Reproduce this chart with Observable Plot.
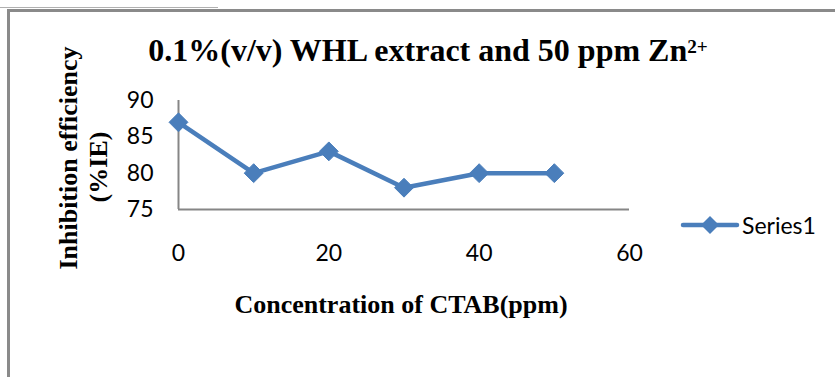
<!DOCTYPE html>
<html>
<head>
<meta charset="utf-8">
<script src="https://cdn.jsdelivr.net/npm/d3@7"></script>
<script src="https://cdn.jsdelivr.net/npm/@observablehq/plot@0.6"></script>
<style>
  html, body { margin: 0; padding: 0; background: #fff; }
  #wrap { position: relative; width: 835px; height: 377px; overflow: hidden; background: #fff; }
  #wrap svg.plot { position: absolute; left: 0; top: 0; }
  .serif { font-family: "Liberation Serif", "Times New Roman", serif; font-weight: bold; color: #000; position: absolute; white-space: nowrap; line-height: 1; }
  #title { left: 428px; top: 50px; transform: translate(-50%, -50%); font-size: 32px; }
  #title sup { font-size: 0.6em; vertical-align: 0.42em; line-height: 0; }
  #xtitle { left: 401px; top: 305px; transform: translate(-50%, -50%); font-size: 26px; }
  .ytitle { transform: translate(-50%, -50%) rotate(-90deg); font-size: 26px; }
  #yt1 { left: 69px; top: 158px; }
  #yt2 { left: 99px; top: 167px; }
  #topline { position: absolute; left: 0; top: 7px; width: 218px; height: 1px; background: #b0b0b0; }
  #frame { position: absolute; left: 7px; top: 9px; width: 840px; height: 380px; border-top: 3px solid #8a8a8a; border-left: 3px solid #8a8a8a; box-sizing: border-box; }
  #legend { position: absolute; left: 680px; top: 211px; display: flex; align-items: center; font-family: Lato, "Open Sans", sans-serif; font-size: 23px; color: #000; }
</style>
</head>
<body>
<div id="wrap">
  <div id="topline"></div>
  <div id="frame"></div>
  <div id="title" class="serif">0.1%(v/v) WHL extract and 50 ppm Zn<sup>2+</sup></div>
  <div id="yt1" class="serif ytitle">Inhibition efficiency</div>
  <div id="yt2" class="serif ytitle">(%IE)</div>
  <div id="xtitle" class="serif">Concentration of CTAB(ppm)</div>
  <div id="legend"></div>
</div>
<script>
// Data
const concentration = [0, 10, 20, 30, 40, 50];
const efficiency = [87, 80, 83, 78, 80, 80];
const seriesName = "Series1";
const xTicks = [0, 20, 40, 60];
const yTicks = [75, 80, 85, 90];

const color = "#4a7ebb";
const axisColor = "#868686";
const data = concentration.map((c, i) => ({x: c, y: efficiency[i]}));

const chart = Plot.plot({
  width: 835,
  height: 377,
  marginLeft: 178,
  marginRight: 206,
  marginTop: 100,
  marginBottom: 168,
  style: {background: "transparent", color: "#000", fontFamily: "Lato, 'Open Sans', sans-serif", fontSize: "23px"},
  x: {domain: [0, 60]},
  y: {domain: [75, 90]},
  marks: [
    Plot.axisX(xTicks, {tickSize: 0, tickPadding: 35, label: null, fontSize: 23}),
    Plot.axisY(yTicks, {tickSize: 0, tickPadding: 25, label: null, fontSize: 23}),
    Plot.ruleX([0], {y1: 75, y2: 90, stroke: axisColor, strokeWidth: 2}),
    Plot.ruleY([75], {x1: 0, x2: 60, stroke: axisColor, strokeWidth: 2}),
    Plot.line(data, {x: "x", y: "y", stroke: color, strokeWidth: 4.5, strokeLinejoin: "round"}),
    Plot.dot(data, {x: "x", y: "y", symbol: "diamond2", r: 8.5, fill: color, stroke: color, strokeWidth: 1})
  ]
});
chart.classList.add("plot");
document.getElementById("wrap").insertBefore(chart, document.getElementById("topline"));

// Legend
const leg = document.getElementById("legend");
leg.innerHTML = `<svg width="60" height="28" style="display:block"><line x1="3" y1="14" x2="57" y2="14" stroke="${color}" stroke-width="4.5" stroke-linecap="round"/><path d="M30,5L39,14L30,23L21,14Z" fill="${color}"/></svg><span style="margin-left:2px">${seriesName}</span>`;
</script>
</body>
</html>
